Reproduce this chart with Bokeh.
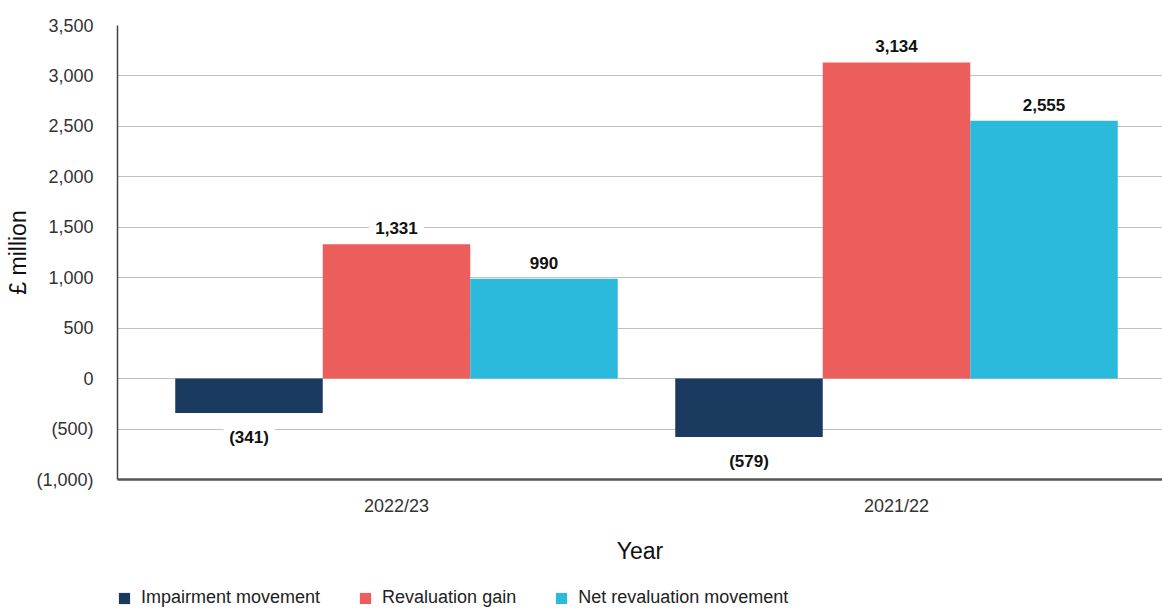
from bokeh.plotting import figure
from bokeh.models import (ColumnDataSource, Range1d, FixedTicker, Label, Legend, LegendItem)
from bokeh.transform import dodge
from bokeh.layouts import column
from bokeh.embed import file_html
from bokeh.resources import INLINE

years = ["2022/23", "2021/22"]
impairment = [-341, -579]
revaluation = [1331, 3134]
net_revaluation = [990, 2555]
series_names = ["Impairment movement", "Revaluation gain", "Net revaluation movement"]
colors = ["#1b3a60", "#ec5e5c", "#2cbadc"]
y_ticks = [-1000, -500, 0, 500, 1000, 1500, 2000, 2500, 3000, 3500]
y_tick_labels = ["(1,000)", "(500)", "0", "500", "1,000", "1,500", "2,000", "2,500", "3,000", "3,500"]

FONT = "Liberation Sans"
xpos = [i + 0.5 for i in range(len(years))]
src = ColumnDataSource(dict(x=xpos, imp=impairment, rev=revaluation, net=net_revaluation))

p = figure(width=1162, height=585, output_backend="svg", toolbar_location=None,
           x_range=Range1d(-0.058, 2.032), y_range=Range1d(-1000, 3500),
           min_border_left=117, min_border_right=0, min_border_top=25, min_border_bottom=106)
p.outline_line_color = None
p.background_fill_color = "white"

bw = 0.295
offsets = [-bw, 0, bw]
cols = ["imp", "rev", "net"]
for off, col, c in zip(offsets, cols, colors):
    p.vbar(x=dodge("x", off, range=p.x_range), top=col, bottom=0, width=bw, source=src,
           fill_color=c, line_color=None)

# value labels
for i, xc in enumerate(xpos):
    for off, vals in zip(offsets, [impairment, revaluation, net_revaluation]):
        v = vals[i]
        txt = f"({abs(v):,})" if v < 0 else f"{v:,}"
        p.add_layout(Label(x=xc + off, y=v, text=txt, text_font=FONT, text_font_size="17px",
                           text_font_style="bold", text_color="#111111", text_align="center",
                           text_baseline="middle", y_offset=(-24 if v < 0 else 16),
                           background_fill_color="white", padding=6))

# axes
p.xaxis.ticker = FixedTicker(ticks=xpos)
p.xaxis.major_label_overrides = {x: y for x, y in zip(xpos, years)}
p.yaxis.ticker = FixedTicker(ticks=y_ticks)
p.yaxis.major_label_overrides = {t: l for t, l in zip(y_ticks, y_tick_labels)}
for ax in (p.xaxis, p.yaxis):
    ax.major_tick_line_color = None
    ax.minor_tick_line_color = None
    ax.major_label_text_font = FONT
    ax.major_label_text_font_size = "18px"
    ax.major_label_text_color = "#333333"
    ax.axis_label_text_font = FONT
    ax.axis_label_text_font_size = "23px"
    ax.axis_label_text_font_style = "normal"
    ax.axis_label_text_color = "#111111"
p.xaxis.axis_line_color = "#555555"
p.xaxis.axis_line_width = 2.5
p.yaxis.axis_line_color = "#444444"
p.yaxis.axis_line_width = 1.5
p.xaxis.axis_label = "Year"
p.yaxis.axis_label = "£ million"
p.xaxis.major_label_standoff = 10
p.xaxis.axis_label_standoff = 19
p.yaxis.major_label_standoff = 18
p.yaxis.axis_label_standoff = 2

p.xgrid.grid_line_color = None
p.ygrid.ticker = FixedTicker(ticks=y_ticks)
p.ygrid.grid_line_color = "#c0c0c0"
p.ygrid.grid_line_width = 1.2

# legend strip below the chart (its bars lie outside the strip's visible range)
pl = figure(width=1162, height=23, output_backend="svg", toolbar_location=None,
            x_axis_location=None, y_axis_location=None,
            x_range=Range1d(-0.058, 2.032), y_range=Range1d(100000, 100001),
            min_border_left=117, min_border_right=0, min_border_top=0, min_border_bottom=0)
pl.outline_line_color = None
pl.grid.visible = False
legend_renderers = [pl.vbar(x="x", top=col, bottom=0, width=bw, source=src,
                            fill_color=c, line_color=None) for col, c in zip(cols, colors)]
legend = Legend(items=[LegendItem(label=n, renderers=[r]) for n, r in zip(series_names, legend_renderers)],
                orientation="horizontal", location=(0, 0), margin=0, padding=0,
                spacing=38, label_standoff=10, glyph_width=14, glyph_height=14,
                label_text_font=FONT, label_text_font_size="18px", label_text_color="#222222",
                border_line_color=None, background_fill_alpha=0)
pl.add_layout(legend, "center")

open("out.html", "w").write(file_html(column(p, pl, spacing=0), INLINE))
